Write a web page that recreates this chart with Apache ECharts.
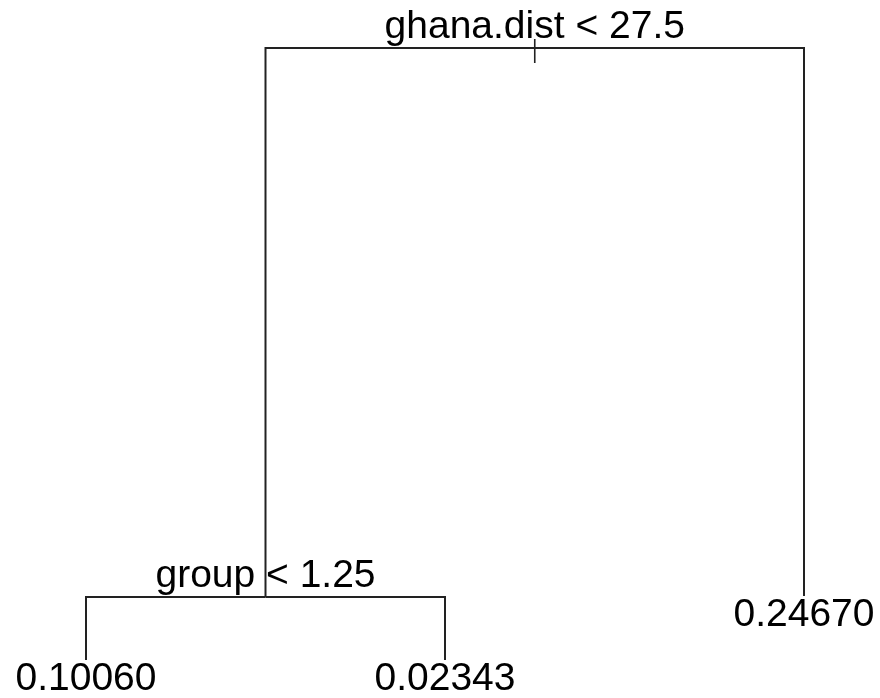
<!DOCTYPE html>
<html><head><meta charset="utf-8">
<script src="https://cdn.jsdelivr.net/npm/echarts@6/dist/echarts.min.js"></script>
<style>html,body{margin:0;padding:0;background:#fff}#c{width:880px;height:698px}</style>
</head><body><div id="c"></div>
<script>
// Tree nodes (pre-order): split labels for internal nodes, fitted values for leaves
const nodeLabels = ['ghana.dist < 27.5', 'group < 1.25', '0.10060', '0.02343', '0.24670'];
const nodeParent = [-1, 0, 1, 1, 0];
const nodeIsLeaf = [false, false, true, true, true];
// node heights (proportional branch lengths, unitless)
const nodeHeight = [0.612, 0.063, 0, 0, 0.064];

// leaf positions 1..n in pre-order, internal nodes at the midpoint of their children
const children = nodeLabels.map(() => []);
nodeParent.forEach((p, i) => { if (p >= 0) children[p].push(i); });
const nodeX = new Array(nodeLabels.length);
let leafCounter = 0;
function place(i) {
  if (nodeIsLeaf[i]) { nodeX[i] = ++leafCounter; return; }
  children[i].forEach(place);
  const xs = children[i].map(c => nodeX[c]);
  nodeX[i] = (Math.min(...xs) + Math.max(...xs)) / 2;
}
place(0);

const data = nodeLabels.map((lab, i) => {
  const p = nodeParent[i] >= 0 ? nodeParent[i] : i;
  return { value: [nodeX[i], nodeHeight[i], nodeX[p], nodeHeight[p]], name: lab };
});

const LINE = '#222';
const FONT = '39px "Liberation Sans", Arial, sans-serif';

const chart = echarts.init(document.getElementById('c'), null, { renderer: 'canvas' });
chart.setOption({
  backgroundColor: '#fff',
  animation: false,
  grid: { left: 86, right: 76, top: 48, bottom: 38 },
  xAxis: { type: 'value', min: 1, max: 3, show: false },
  yAxis: { type: 'value', min: 0, max: 0.612, show: false },
  series: [{
    type: 'custom',
    clip: false,
    data: data,
    renderItem: function (params, api) {
      const i = params.dataIndex;
      const c = api.coord([api.value(0), api.value(1)]);
      const p = api.coord([api.value(2), api.value(3)]);
      const els = [];
      if (nodeParent[i] >= 0) {
        els.push({
          type: 'polyline',
          shape: { points: [[p[0], p[1]], [c[0], p[1]], [c[0], c[1]]] },
          style: { stroke: LINE, lineWidth: 2, fill: null }
        });
      } else {
        els.push({
          type: 'line',
          shape: { x1: c[0], y1: c[1] - 9, x2: c[0], y2: c[1] + 15 },
          style: { stroke: LINE, lineWidth: 1.6 },
          z2: 10
        });
      }
      els.push({
        type: 'text',
        style: {
          text: nodeLabels[i],
          x: c[0],
          y: nodeIsLeaf[i] ? c[1] + 19.5 : c[1] - 21,
          font: FONT,
          fill: '#000',
          align: 'center',
          verticalAlign: 'middle'
        }
      });
      return { type: 'group', children: els };
    }
  }]
});
</script>
</body></html>
